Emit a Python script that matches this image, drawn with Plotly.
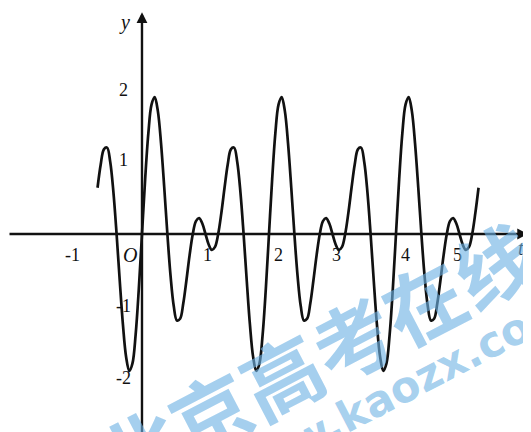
import numpy as np
import plotly.graph_objects as go

# curve samples: t from -0.70 to 5.30, step 0.05
T_START = -0.70
T_STEP = 0.05
Y_VALUES = [
    0.642, 0.965, 1.176, 1.200, 1.000, 0.582, 0.000, -0.653, -1.260, -1.707, -1.902, -1.797, -1.397, -0.763,
    # t = 0 .. 1.95
    0.000, 0.763, 1.397, 1.797, 1.902, 1.707, 1.260, 0.653, 0.000, -0.582,
    -1.000, -1.200, -1.176, -0.965, -0.642, -0.293, 0.000, 0.179, 0.221, 0.145,
    0.000, -0.145, -0.221, -0.179, 0.000, 0.293, 0.642, 0.965, 1.176, 1.200,
    1.000, 0.582, 0.000, -0.653, -1.260, -1.707, -1.902, -1.797, -1.397, -0.763,
    # t = 2 .. 3.95
    0.000, 0.763, 1.397, 1.797, 1.902, 1.707, 1.260, 0.653, 0.000, -0.582,
    -1.000, -1.200, -1.176, -0.965, -0.642, -0.293, 0.000, 0.179, 0.221, 0.145,
    0.000, -0.145, -0.221, -0.179, 0.000, 0.293, 0.642, 0.965, 1.176, 1.200,
    1.000, 0.582, 0.000, -0.653, -1.260, -1.707, -1.902, -1.797, -1.397, -0.763,
    # t = 4 .. 5.30
    0.000, 0.763, 1.397, 1.797, 1.902, 1.707, 1.260, 0.653, 0.000, -0.582,
    -1.000, -1.200, -1.176, -0.965, -0.642, -0.293, 0.000, 0.179, 0.221, 0.145,
    0.000, -0.145, -0.221, -0.179, 0.000, 0.293, 0.642,
]
T_VALUES = [round(T_START + i * T_STEP, 2) for i in range(len(Y_VALUES))]

X_TICKS = [-1, 1, 2, 3, 4, 5]
X_TICK_LABELS = ["-1", "1", "2", "3", "4", "5"]
Y_TICKS = [2, 1, -1, -2]
Y_TICK_LABELS = ["2", "1", "-1", "-2"]

# ranges chosen so the page (with its 8px body margin) lines up
X_RANGE = [-2.110, 6.252]
Y_RANGE = [-2.861, 3.139]
X_AXIS_END = [-2.11, 6.08]
Y_AXIS_END = [-3.0, 3.08]

fig = go.Figure()
fig.add_trace(go.Scatter(
    x=T_VALUES, y=Y_VALUES, mode="lines",
    line=dict(color="#111111", width=2.7, shape="spline", smoothing=1.0),
    hoverinfo="skip", showlegend=False,
))

serif = "Liberation Serif, Times New Roman, serif"
ink = "#111111"
ann = []
# axes as arrows
ann.append(dict(x=X_AXIS_END[1], y=0, ax=X_AXIS_END[0], ay=0, xref="x", yref="y", axref="x", ayref="y",
                showarrow=True, arrowhead=2, arrowsize=0.9, arrowwidth=2.4, arrowcolor=ink, text=""))
ann.append(dict(x=0, y=Y_AXIS_END[1], ax=0, ay=Y_AXIS_END[0], xref="x", yref="y", axref="x", ayref="y",
                showarrow=True, arrowhead=2, arrowsize=0.9, arrowwidth=2.4, arrowcolor=ink, text=""))

x_shift = {-1: -6, 1: 2, 2: 10, 3: 4, 4: 10, 5: -2}
for v, lab in zip(X_TICKS, X_TICK_LABELS):
    ann.append(dict(x=v, y=0, xref="x", yref="y", text=lab, showarrow=False,
                    xshift=x_shift[v], yshift=-21,
                    font=dict(family=serif, size=18, color=ink)))
for v, lab in zip(Y_TICKS, Y_TICK_LABELS):
    ann.append(dict(x=0, y=v, xref="x", yref="y", text=lab, showarrow=False,
                    xshift=-18, yshift=0 if v != 1 else 2,
                    font=dict(family=serif, size=18, color=ink)))
ann.append(dict(x=0, y=0, xref="x", yref="y", text="<i>O</i>", showarrow=False,
                xshift=-12, yshift=-21, font=dict(family=serif, size=20, color=ink)))
ann.append(dict(x=0, y=Y_AXIS_END[1], xref="x", yref="y", text="<i>y</i>", showarrow=False,
                xshift=-17, yshift=-10, font=dict(family=serif, size=20, color=ink)))
ann.append(dict(x=X_AXIS_END[1], y=0, xref="x", yref="y", text="<i>t</i>", showarrow=False,
                xshift=-7, yshift=-14, font=dict(family=serif, size=20, color=ink)))

# watermark
ann.append(dict(x=0.580, y=0.197, xref="paper", yref="paper", xanchor="center", yanchor="middle",
                text="<b>北京高考在线</b>", showarrow=False, textangle=-27.5,
                font=dict(family="Noto Sans CJK SC", size=80, color="rgba(110,178,228,0.62)")))
ann.append(dict(x=0.728, y=0.112, xref="paper", yref="paper", xanchor="center", yanchor="middle",
                text="<b>www.kaozx.com</b>", showarrow=False, textangle=-27.5,
                font=dict(family="DejaVu Sans", size=43, color="rgba(110,178,228,0.62)")))

fig.update_layout(
    width=531, height=432, autosize=False,
    margin=dict(l=0, r=0, t=0, b=0),
    paper_bgcolor="white", plot_bgcolor="white",
    xaxis=dict(range=X_RANGE, visible=False, fixedrange=True),
    yaxis=dict(range=Y_RANGE, visible=False, fixedrange=True),
    annotations=ann, showlegend=False,
)
fig.write_html("out.html")
